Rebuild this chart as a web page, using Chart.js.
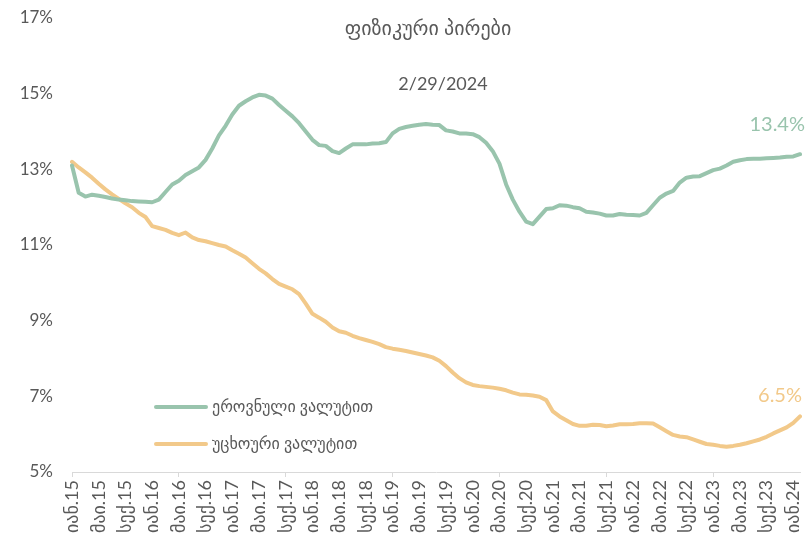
<!DOCTYPE html>
<html>
<head>
<meta charset="utf-8">
<script src="https://cdn.jsdelivr.net/npm/chart.js@4/dist/chart.umd.min.js"></script>
<style>
  body { margin: 0; background: #fff; }
  #wrap { width: 807px; height: 541px; position: relative; }
</style>
</head>
<body>
<div id="wrap"><canvas id="rateChart"></canvas></div>
<script>
// Monthly series, Jan 2015 - Feb 2024
const MONTHS = ['იან', 'თებ', 'მარ', 'აპრ', 'მაი', 'ივნ', 'ივლ', 'აგვ', 'სექ', 'ოქტ', 'ნოე', 'დეკ'];
const YEARS = ['15', '16', '17', '18', '19', '20', '21', '22', '23', '24'];
const SERIES_NAMES = ['ეროვნული ვალუტით', 'უცხოური ვალუტით'];
const Y_TICKS = [5, 7, 9, 11, 13, 15, 17];

const gelRates = [
  13.10, 12.38, 12.28, 12.33, 12.30, 12.27, 12.23, 12.20, 12.18, 12.16, 12.15, 12.14,
  12.13, 12.20, 12.40, 12.60, 12.70, 12.85, 12.95, 13.05, 13.25, 13.55, 13.90, 14.15,
  14.45, 14.68, 14.80, 14.90, 14.97, 14.95, 14.87, 14.70, 14.55, 14.40, 14.22, 14.00,
  13.78, 13.64, 13.62, 13.48, 13.43, 13.55, 13.66, 13.66, 13.66, 13.68, 13.69, 13.72,
  13.95, 14.07, 14.12, 14.15, 14.18, 14.20, 14.18, 14.17, 14.03, 14.00, 13.95, 13.95,
  13.93, 13.85, 13.70, 13.48, 13.15, 12.60, 12.20, 11.88, 11.62, 11.55, 11.75, 11.95,
  11.97, 12.05, 12.04, 12.00, 11.97, 11.88, 11.86, 11.83, 11.78, 11.78, 11.82, 11.80,
  11.79, 11.78, 11.85, 12.05, 12.25, 12.36, 12.43, 12.65, 12.78, 12.81, 12.82, 12.90,
  12.98, 13.02, 13.10, 13.20, 13.24, 13.27, 13.28, 13.28, 13.29, 13.30, 13.31, 13.33,
  13.34, 13.40
];

const fxRates = [
  13.20, 13.05, 12.92, 12.78, 12.62, 12.47, 12.34, 12.22, 12.10, 12.00, 11.85, 11.74,
  11.50, 11.45, 11.40, 11.32, 11.26, 11.33, 11.20, 11.13, 11.10, 11.05, 11.00, 10.96,
  10.86, 10.77, 10.67, 10.52, 10.37, 10.25, 10.10, 9.97, 9.90, 9.83, 9.70, 9.45,
  9.18, 9.08, 8.97, 8.82, 8.72, 8.68, 8.60, 8.54, 8.49, 8.44, 8.38, 8.30,
  8.26, 8.23, 8.20, 8.16, 8.12, 8.08, 8.03, 7.94, 7.80, 7.63, 7.48, 7.37,
  7.30, 7.27, 7.25, 7.23, 7.20, 7.16, 7.10, 7.05, 7.04, 7.02, 6.99, 6.90,
  6.60, 6.47, 6.37, 6.27, 6.22, 6.22, 6.25, 6.24, 6.21, 6.23, 6.26, 6.26,
  6.27, 6.29, 6.29, 6.28, 6.18, 6.08, 5.98, 5.94, 5.92, 5.86, 5.80, 5.74,
  5.72, 5.69, 5.67, 5.69, 5.72, 5.76, 5.81, 5.86, 5.93, 6.02, 6.10, 6.18,
  6.30, 6.47
];

const GREEN = '#99c4ad';
const GOLD = '#f2c98a';
const GREY_TEXT = '#595959';
const AXIS_GREY = '#d9d9d9';
const FONT = "Lato, 'DejaVu Sans', sans-serif";

const labels = [];
YEARS.forEach(y => MONTHS.forEach(m => labels.push(m + '.' + y)));
labels.length = gelRates.length;

// title, in-plot legend and end-of-line value labels
const overlay = {
  id: 'overlay',
  afterDraw(chart) {
    const ctx = chart.ctx;
    ctx.save();
    ctx.fillStyle = GREY_TEXT;
    ctx.textBaseline = 'middle';
    ctx.textAlign = 'center';
    ctx.font = '20px ' + FONT;
    ctx.fillText('ფიზიკური პირები', 428, 29);
    ctx.font = '18px ' + FONT;
    ctx.fillText('2/29/2024', 443, 84);

    // legend
    const rows = [407, 444];
    ctx.textAlign = 'left';
    ctx.font = '16px ' + FONT;
    chart.data.datasets.forEach((ds, i) => {
      ctx.strokeStyle = ds.borderColor;
      ctx.lineWidth = 4;
      ctx.lineCap = 'round';
      ctx.beginPath();
      ctx.moveTo(156, rows[i]);
      ctx.lineTo(206, rows[i]);
      ctx.stroke();
      ctx.fillStyle = GREY_TEXT;
      ctx.fillText(ds.label, 212, rows[i]);
    });

    // last value labels
    const lift = [30, 21];
    ctx.textAlign = 'right';
    ctx.font = '20px ' + FONT;
    chart.data.datasets.forEach((ds, i) => {
      const pts = chart.getDatasetMeta(i).data;
      const p = pts[pts.length - 1];
      const v = ds.data[ds.data.length - 1];
      ctx.fillStyle = ds.borderColor;
      ctx.fillText(v.toFixed(1) + '%', p.x + 5 - i * 3, p.y - lift[i]);
    });
    ctx.restore();
  }
};

new Chart(document.getElementById('rateChart'), {
  type: 'line',
  data: {
    labels: labels,
    datasets: [
      { label: SERIES_NAMES[0], data: gelRates, borderColor: GREEN, backgroundColor: GREEN },
      { label: SERIES_NAMES[1], data: fxRates, borderColor: GOLD, backgroundColor: GOLD }
    ]
  },
  options: {
    responsive: true,
    maintainAspectRatio: false,
    animation: false,
    layout: { padding: { top: 18, right: 7, left: 0, bottom: 0 } },
    elements: {
      point: { radius: 0 },
      line: { borderWidth: 4, tension: 0, borderJoinStyle: 'round', borderCapStyle: 'round' }
    },
    scales: {
      x: {
        offset: false,
        grid: {
          drawOnChartArea: false,
          tickLength: 5,
          color: c => (c.index % 4 === 0 ? AXIS_GREY : 'rgba(0,0,0,0)')
        },
        border: { color: AXIS_GREY, width: 1 },
        ticks: {
          autoSkip: false,
          minRotation: 90,
          maxRotation: 90,
          padding: 3,
          color: GREY_TEXT,
          font: { family: FONT, size: 18 },
          callback: function (val, idx) { return idx % 4 === 0 ? this.getLabelForValue(val) : null; }
        },
        afterFit: s => {
          s.height = 69;
          s.paddingLeft = 0;
          s.paddingRight = 0;
        }
      },
      y: {
        min: 5,
        max: 17,
        afterBuildTicks: s => { s.ticks = Y_TICKS.map(v => ({ value: v })); },
        grid: { display: false, drawTicks: false },
        border: { display: false },
        ticks: {
          padding: 19,
          color: GREY_TEXT,
          font: { family: FONT, size: 17 },
          callback: v => v + '%'
        },
        afterFit: s => {
          s.width = 72;
          s.paddingTop = 0;
          s.paddingBottom = 0;
        }
      }
    },
    plugins: {
      legend: { display: false },
      tooltip: { enabled: false },
      title: { display: false }
    }
  },
  plugins: [overlay]
});
</script>
</body>
</html>
